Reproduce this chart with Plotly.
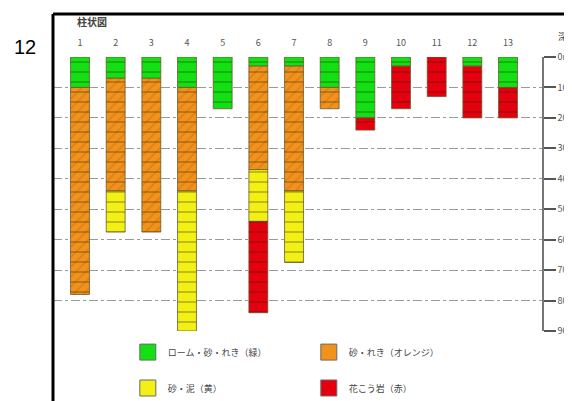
"""Borehole columnar section (柱状図) rebuilt with Plotly."""

import plotly.graph_objects as go

FONT = "Noto Sans CJK JP, Noto Sans, sans-serif"

BORINGS = list(range(1, 14))
DEPTH_TICKS = [0, 10, 20, 30, 40, 50, 60, 70, 80, 90]
DEPTH_LABELS = [f"{d}m" for d in DEPTH_TICKS]

# ローム・砂・れき (green)
LOAM_COL = [1, 2, 3, 4, 5, 6, 7, 8, 9, 10, 12, 13]
LOAM_TOP = [0, 0, 0, 0, 0, 0, 0, 0, 0, 0, 0, 0]
LOAM_BOT = [10, 7, 7, 10, 17, 3, 3, 10, 20, 3, 3, 10]

# 砂・れき (orange)
GRAVEL_COL = [1, 2, 3, 4, 6, 7, 8]
GRAVEL_TOP = [10, 7, 7, 10, 3, 3, 10]
GRAVEL_BOT = [78, 44, 57.5, 44, 37, 44, 17]

# 砂・泥 (yellow)
MUD_COL = [2, 4, 6, 7]
MUD_TOP = [44, 44, 37, 44]
MUD_BOT = [57.5, 90, 54, 67.5]

# 花こう岩 (red)
GRANITE_COL = [6, 9, 10, 11, 12, 13]
GRANITE_TOP = [54, 20, 3, 0, 3, 10]
GRANITE_BOT = [84, 24, 17, 13, 20, 20]

LAYERS = [
    ("ローム・砂・れき（緑）", LOAM_COL, LOAM_TOP, LOAM_BOT, "#12e012", "", "legend"),
    ("砂・れき（オレンジ）", GRAVEL_COL, GRAVEL_TOP, GRAVEL_BOT, "#f0921c", "/", "legend"),
    ("砂・泥（黄）", MUD_COL, MUD_TOP, MUD_BOT, "#f2f014", "", "legend2"),
    ("花こう岩（赤）", GRANITE_COL, GRANITE_TOP, GRANITE_BOT, "#e4000e", "", "legend2"),
]

BAR_W = 0.53

fig = go.Figure()

for name, cols, tops, bots, color, hatch, leg in LAYERS:
    thick = [b - t for t, b in zip(tops, bots)]
    fig.add_trace(go.Bar(
        x=cols, y=thick, base=tops, width=BAR_W, name=name, showlegend=False,
        marker=dict(
            color=color, line=dict(color="#6a5a30", width=0.8),
            pattern=dict(shape=hatch, bgcolor=color, fgcolor="#c0680a",
                         size=7, solidity=0.18),
        ),
    ))
    # legend swatch only
    fig.add_trace(go.Scatter(
        x=[None], y=[None], mode="markers", name=name, legend=leg,
        marker=dict(symbol="square", size=16, color=color,
                    line=dict(color="#6a6a6a", width=1)),
    ))

# horizontal cell divisions over each full column
col_bottom = {}
for _, cols, tops, bots, *_ in LAYERS:
    for c, b in zip(cols, bots):
        col_bottom[c] = max(col_bottom.get(c, 0), b)
fig.add_trace(go.Bar(
    x=list(col_bottom), y=list(col_bottom.values()), base=0, width=BAR_W,
    showlegend=False, hoverinfo="skip",
    marker=dict(color="rgba(0,0,0,0)", line=dict(width=0),
                pattern=dict(shape="-", bgcolor="rgba(0,0,0,0)",
                             fgcolor="rgba(40,30,10,0.85)", size=10, solidity=0.12)),
))

legend_common = dict(
    orientation="h", xanchor="left", yanchor="middle",
    entrywidth=136, entrywidthmode="pixels", itemwidth=30,
    font=dict(size=9, color="#444"), bgcolor="rgba(0,0,0,0)",
)

fig.update_layout(
    width=572, height=401,
    margin=dict(l=45, r=38, t=49, b=78, autoexpand=False),
    paper_bgcolor="white", plot_bgcolor="white",
    barmode="overlay",
    font=dict(family=FONT, size=9, color="#444"),
    xaxis=dict(
        side="top", range=[0.243, 13.953], tickmode="array",
        tickvals=BORINGS, ticktext=[str(b) for b in BORINGS],
        showgrid=False, zeroline=False, showline=False, automargin=False,
        ticks="", ticklabelstandoff=8, tickfont=dict(size=9, color="#555"),
    ),
    yaxis=dict(
        side="right", range=[90, 0], tickmode="array",
        tickvals=DEPTH_TICKS, ticktext=DEPTH_LABELS, automargin=False,
        showline=True, linecolor="#777", linewidth=1.5,
        ticks="outside", ticklen=12, tickwidth=1.5, tickcolor="#555",
        showgrid=True, gridcolor="#9a9a9a", gridwidth=1, griddash="dashdot",
        zeroline=False, tickfont=dict(size=9, color="#555"),
    ),
    legend=dict(x=0.153, y=-0.077, **legend_common),
    legend2=dict(x=0.153, y=-0.208, **legend_common),
    shapes=[
        dict(type="line", xref="paper", yref="paper", x0=0, x1=1.1, y0=1.157, y1=1.157,
             line=dict(color="black", width=3)),
        dict(type="line", xref="paper", yref="paper", x0=0, x1=0, y0=1.157, y1=-0.35,
             line=dict(color="black", width=3)),
    ],
    annotations=[
        dict(text="12", xref="paper", yref="paper", x=-0.057, y=1.036,
             xanchor="center", yanchor="middle", showarrow=False,
             font=dict(family="Liberation Sans, Arial", size=20, color="black")),
        dict(text="<b>柱状図</b>", xref="paper", yref="paper", x=0.045, y=1.128,
             xanchor="left", yanchor="middle", showarrow=False,
             font=dict(size=10, color="#444")),
        dict(text="深さ", xref="paper", yref="paper", x=1.029, y=1.075,
             xanchor="left", yanchor="middle", showarrow=False,
             font=dict(size=9, color="#444")),
    ],
)

fig.write_html("out.html")
